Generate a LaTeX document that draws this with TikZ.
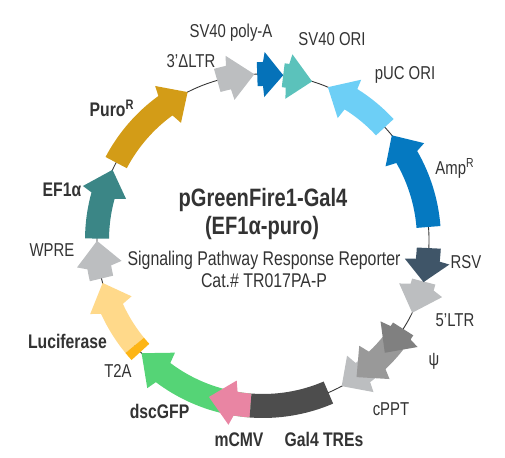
\documentclass[tikz,border=0pt]{standalone}
\usepackage{fontspec}
\setmainfont[FakeStretch=0.8]{Liberation Sans}
\definecolor{ampblue}{HTML}{0579C1}
\definecolor{pucblue}{HTML}{6DCFF6}
\definecolor{oriteal}{HTML}{5BC2BB}
\definecolor{polyblue}{HTML}{0572B9}
\definecolor{ltrgrey}{HTML}{BCBEC0}
\definecolor{purogold}{HTML}{D39C17}
\definecolor{efteal}{HTML}{3B8686}
\definecolor{lucyellow}{HTML}{FFD98A}
\definecolor{taorange}{HTML}{FDB515}
\definecolor{gfpgreen}{HTML}{55D476}
\definecolor{cmvpink}{HTML}{E985A3}
\definecolor{galdark}{HTML}{4D4D4D}
\definecolor{rsvslate}{HTML}{3F5568}
\definecolor{psigrey}{HTML}{808080}
\definecolor{midgrey}{HTML}{999999}
\definecolor{inkgrey}{HTML}{333333}
\tikzset{
	lbl/.style={text=inkgrey,font=\fontsize{10.6}{13}\selectfont,inner sep=0pt},
	boldlbl/.style={lbl,font=\fontsize{11.2}{13}\selectfont\bfseries},
}
% tail, notch, barb, tip, colour
\newcommand{\gene}[5]{
	\fill [#5] (#1:3.56) arc [start angle=#1,end angle=#2,radius=3.56] -- (#3:3.76)
		-- (#4:3.32) -- (#3:2.86) -- (#2:3.08) arc [start angle=#2,end angle=#1,radius=3.08] -- cycle;
}
\newcommand{\band}[3]{
	\fill [#3] (#1:3.56) arc [start angle=#1,end angle=#2,radius=3.56]
		-- (#2:3.08) arc [start angle=#2,end angle=#1,radius=3.08] -- cycle;
}
\begin{document}
\begin{tikzpicture}

	\useasboundingbox (0,0) rectangle (10.1,9.16);

	\coordinate (ori) at (5.26,4.36);
	\draw [inkgrey,line width=0.5pt] (ori) circle (3.32);

	\begin{scope}[shift={(ori)}]
		\gene{4.5}{30}{31}{39.1}{ampblue}
		\gene{42.8}{58}{58.5}{67}{pucblue}
		\gene{92}{90}{89.5}{83}{polyblue}
		\gene{83}{81.5}{81}{72.8}{oriteal}
		\gene{106}{102}{101.5}{93}{ltrgrey}
		\gene{152.2}{126}{125}{117}{purogold}
		\gene{179.5}{164.5}{163.3}{155}{efteal}
		\gene{193.4}{189.5}{188.4}{180.3}{ltrgrey}
		\gene{219.4}{204.5}{203.2}{195}{lucyellow}
		\band{219.4}{222.4}{taorange}
		\gene{265.7}{233}{232}{223}{gfpgreen}
		\gene{265.7}{260.5}{259.4}{251}{cmvpink}
		\band{265.7}{293.2}{galdark}
		\gene{312}{307}{306}{298.3}{ltrgrey}
		\gene{322}{313.5}{312.3}{304.3}{midgrey}
		\gene{327.6}{326}{325.3}{317.2}{psigrey}
		\gene{345.5}{343.5}{342.3}{334}{ltrgrey}
		\gene{357.2}{353}{352.5}{345.3}{rsvslate}
	\end{scope}

	\node (polya) at (4.62,8.50) [lbl] {SV40 poly-A};
	\node (svori) at (6.64,8.38) [lbl] {SV40 ORI};
	\node (pucori) at (8.10,7.66) [lbl] {pUC ORI};
	\node (ltrthree) at (3.82,7.94) [lbl] {3’ΔLTR};
	\node (amp) at (9.10,5.80) [lbl] {Amp\textsuperscript{R}};
	\node (rsv) at (9.32,3.92) [lbl] {RSV};
	\node (ltrfive) at (9.10,2.76) [lbl] {5’LTR};
	\node (psi) at (8.68,1.94) [lbl] {ψ};
	\node (cppt) at (7.82,0.98) [lbl] {cPPT};
	\node (tres) at (6.48,0.38) [boldlbl] {Gal4 TREs};
	\node (mcmv) at (4.78,0.36) [boldlbl] {mCMV};
	\node (gfp) at (3.19,0.94) [boldlbl] {dscGFP};
	\node (tta) at (2.36,1.74) [lbl] {T2A};
	\node (luc) at (1.35,2.34) [boldlbl] {Luciferase};
	\node (wpre) at (1.04,4.16) [lbl] {WPRE};
	\node (ef) at (1.24,5.36) [boldlbl] {EF1α};
	\node (puro) at (2.24,7.00) [boldlbl] {Puro\textsuperscript{R}};

	\node (title) at (5.26,5.16) [boldlbl,font=\fontsize{14.3}{16}\selectfont\bfseries] {pGreenFire1-Gal4};
	\node (subtitle) at (5.24,4.60) [boldlbl,font=\fontsize{14.3}{16}\selectfont\bfseries] {(EF1α-puro)};
	\node (signal) at (5.28,3.96) [lbl,font=\fontsize{11.3}{13}\selectfont] {Signaling Pathway Response Reporter};
	\node (cat) at (5.28,3.54) [lbl,font=\fontsize{11.3}{13}\selectfont] {Cat.\# TR017PA-P};

\end{tikzpicture}
\end{document}
